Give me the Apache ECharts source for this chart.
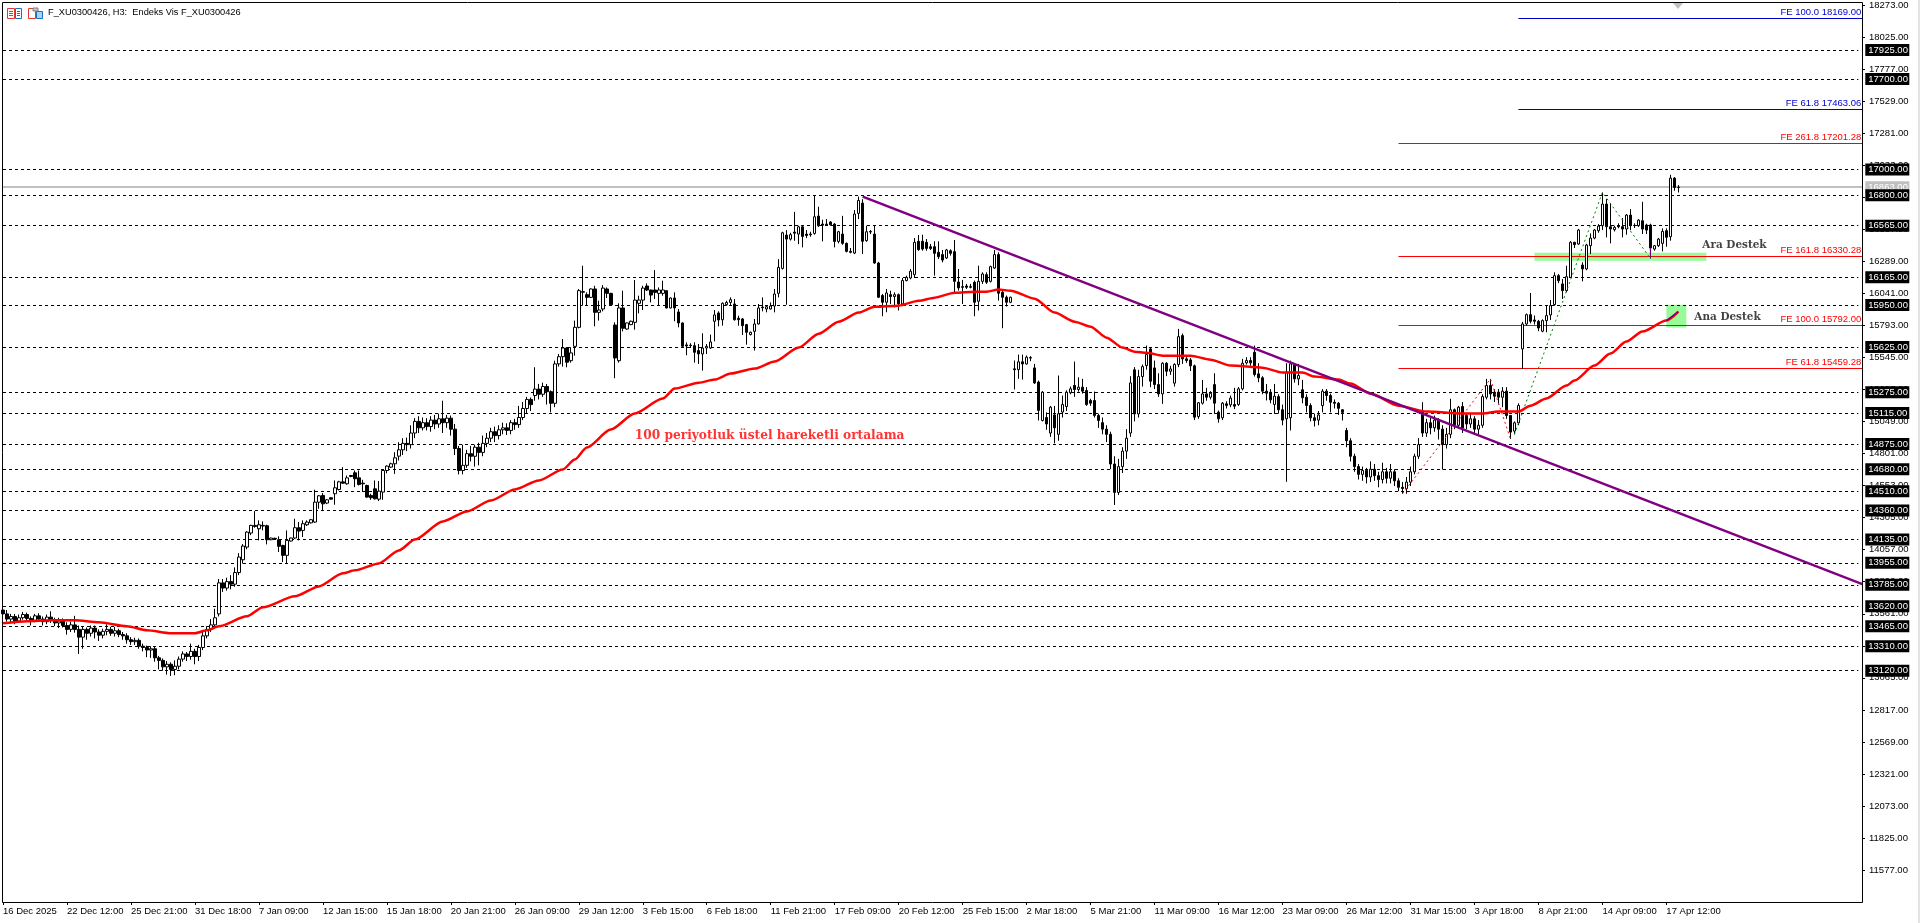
<!DOCTYPE html>
<html><head><meta charset="utf-8"><title>F_XU0300426</title>
<style>html,body{margin:0;padding:0;background:#fff}#c{width:1920px;height:923px}</style>
<script src="https://cdn.jsdelivr.net/npm/echarts@6/dist/echarts.min.js"></script></head>
<body><div id="c"></div>
<script>
// Time labels, one every 16 bars
const timeLabels=['16 Dec 2025','22 Dec 12:00','25 Dec 21:00','31 Dec 18:00','7 Jan 09:00','12 Jan 15:00','15 Jan 18:00','20 Jan 21:00','26 Jan 09:00','29 Jan 12:00','3 Feb 15:00','6 Feb 18:00','11 Feb 21:00','17 Feb 09:00','20 Feb 12:00','25 Feb 15:00','2 Mar 18:00','5 Mar 21:00','11 Mar 09:00','16 Mar 12:00','23 Mar 09:00','26 Mar 12:00','31 Mar 15:00','3 Apr 18:00','8 Apr 21:00','14 Apr 09:00','17 Apr 12:00'];
const priceTicks=[18273,18025,17777,17529,17281,17033,16785,16537,16289,16041,15793,15545,15297,15049,14801,14553,14305,14057,13809,13561,13313,13065,12817,12569,12321,12073,11825,11577];
const supportLevels=[17925,17700,17000,16800,16565,16165,15950,15625,15275,15115,14875,14680,14510,14360,14135,13955,13785,13620,13465,13310,13120];
const currentPrice=16863;
const feNames=['FE 100.0 18169.00','FE 61.8 17463.06','FE 261.8 17201.28','FE 161.8 16330.28','FE 100.0 15792.00','FE 61.8 15459.28'];
const fePrices=[18169,17463.06,17201.28,16330.28,15792,15459.28];
const feStart=[379,379,349,349,349,349];
const feColors=['#0000cd','#0000cd','#ff0000','#ff0000','#ff0000','#ff0000'];
// Candles: [open, close, low, high]
const barsDec=[[13590,13560,13520,13665],[13560,13520,13500,13590],[13520,13540,13490,13560],[13540,13505,13480,13560],[13505,13530,13490,13555],[13530,13555,13515,13575],[13555,13525,13500,13570],[13525,13510,13470,13540],[13510,13545,13495,13560],[13545,13520,13500,13565],[13520,13500,13470,13540],[13500,13535,13480,13555],[13535,13515,13490,13580],[13515,13490,13465,13530],[13490,13505,13450,13530],[13505,13470,13455,13525],[13470,13440,13400,13495],[13440,13475,13420,13500],[13475,13440,13415,13545],[13440,13380,13250,13470],[13380,13440,13290,13465],[13440,13410,13360,13455],[13410,13450,13385,13470],[13450,13420,13370,13470],[13420,13395,13350,13440],[13395,13425,13370,13445],[13425,13440,13395,13480],[13440,13410,13390,13460],[13410,13430,13385,13460],[13430,13400,13380,13445],[13400,13390,13360,13420],[13390,13360,13330,13410],[13360,13345,13320,13380],[13345,13355,13320,13375],[13355,13310,13290,13370],[13310,13300,13270,13330],[13300,13280,13225,13315],[13280,13290,13220,13310],[13290,13220,13190,13310],[13220,13200,13130,13235],[13200,13150,13120,13215],[13150,13170,13090,13195],[13170,13130,13080,13185],[13130,13155,13085,13200],[13155,13210,13130,13230],[13210,13250,13190,13270],[13250,13230,13195,13265],[13230,13270,13205,13330]];
const barsJanA=[[13270,13230,13170,13290],[13230,13300,13195,13320],[13300,13390,13280,13420],[13390,13440,13370,13465],[13440,13475,13420,13520],[13475,13530,13455,13600],[13560,13800,13540,13830],[13800,13760,13730,13830],[13760,13810,13740,13840],[13810,13790,13750,13860],[13790,13880,13770,13920],[13880,14000,13860,14030],[13979,14085,13950,14100],[14077,14193,14060,14200],[14186,14245,14170,14250],[14245,14237,14227,14356],[14219,14250,14129,14284],[14245,14240,14206,14276],[14242,14134,14098,14250],[14134,14147,14130,14150],[14145,14140,14135,14150],[14134,14083,14039,14160],[14090,14013,13961,14095],[14013,14129,13954,14206],[14124,14147,14120,14150],[14147,14227,14140,14296],[14227,14201,14129,14271],[14206,14258,14155,14284],[14250,14271,14240,14284],[14265,14289,14260,14295],[14271,14425,14265,14521],[14425,14474,14374,14480],[14477,14412,14361,14495],[14418,14443,14410,14448],[14459,14448,14445,14462],[14490,14536,14405,14593],[14523,14582,14515,14590],[14582,14572,14567,14696],[14567,14613,14560,14631],[14631,14624,14618,14636],[14652,14606,14541,14670],[14613,14562,14554,14670],[14572,14567,14503,14598],[14554,14464,14460,14560],[14477,14459,14443,14490],[14528,14451,14445,14593],[14448,14510,14433,14588],[14503,14670,14443,14675],[14670,14704,14649,14710],[14696,14722,14690,14730],[14722,14768,14644,14812],[14781,14830,14747,14889]];
const barsJanB=[[14830,14880,14790,14920],[14880,14870,14820,14925],[14870,14960,14840,15020],[14960,15050,14920,15075],[15050,15000,14960,15090],[15000,15040,14980,15080],[15040,15010,14980,15075],[15010,15060,14970,15090],[15060,15030,14990,15100],[15030,15070,15000,15110],[15070,15040,14960,15210],[15040,15075,15000,15100],[15075,14990,14940,15095],[14990,14840,14790,15030],[14840,14670,14640,14860],[14670,14710,14640,14870],[14710,14800,14690,14830],[14800,14780,14740,14860],[14780,14850,14700,14870],[14850,14810,14710,14885],[14810,14880,14780,14940],[14880,14920,14850,14960],[14920,14970,14890,15000],[14970,14940,14890,15010],[14940,14985,14910,15020],[14985,15000,14950,15040],[15000,14980,14945,15035],[14980,15040,14950,15060],[15040,15025,14985,15070],[15025,15080,15000,15170],[15080,15150,15060,15200],[15150,15220,15110,15240],[15220,15180,15130,15235],[15250,15300,15210,15469],[15300,15260,15220,15340],[15260,15320,15240,15350],[15320,15280,15180,15340],[15280,15190,15120,15290]];
const barsFebA=[[15190,15495,15160,15520],[15495,15551,15474,15572],[15551,15618,15474,15688],[15618,15508,15469,15625],[15520,15580,15505,15624],[15631,15778,15559,15830],[15778,16062,15770,16075],[16054,16050,15946,16255],[16031,16010,15946,16049],[16010,16075,16005,16080],[16075,15894,15786,16100],[15894,15912,15830,15984],[15920,16082,15902,16105],[16075,16041,16005,16087],[16041,15953,15950,16045],[15796,15541,15384,15817],[15520,15928,15505,15964],[15928,15771,15747,16062],[15765,15812,15760,15815],[15799,15825,15795,15830],[15817,15989,15760,16144],[15964,15989,15886,16023],[15989,16082,15912,16100],[16098,16067,16060,16118],[16067,16028,15971,16070],[16067,16049,15997,16221],[16041,16067,15946,16087],[16041,16067,16023,16139],[16062,15928,15925,16065],[15928,16005,15925,16010],[16005,15928,15825,16049],[15897,15812,15778,15920],[15812,15631,15625,15815],[15642,15634,15562,15662],[15640,15636,15618,15655],[15636,15585,15505,15662],[15598,15572,15495,15649],[15572,15618,15443,15732],[15618,15631,15572,15649],[15618,15665,15610,15722]];
const barsFebB=[[15825,15874,15670,15912],[15889,15835,15786,15902],[15837,15964,15791,15971],[15953,15971,15945,15984],[15971,15992,15946,16010],[15959,15837,15830,15997],[15848,15837,15791,15868],[15843,15791,15719,15850],[15799,15740,15644,15805],[15722,15740,15715,15745],[15747,15804,15598,15843],[15804,15928,15800,15959],[15935,15930,15902,16010],[15920,15938,15894,15945],[15920,15943,15915,15971],[15943,16036,15894,16075],[16041,16242,16010,16306],[16234,16510,16225,16518],[16492,16461,15953,16531],[16461,16495,16450,16510],[16515,16507,16448,16672],[16500,16556,16422,16565],[16556,16482,16397,16564],[16500,16489,16469,16531],[16500,16495,16479,16518],[16505,16634,16495,16796],[16639,16564,16555,16711],[16577,16569,16443,16611],[16577,16573,16572,16616],[16593,16572,16565,16600],[16577,16443,16397,16585],[16443,16518,16428,16525],[16500,16428,16417,16641],[16428,16366,16358,16435],[16366,16359,16351,16392],[16353,16655,16345,16686],[16660,16760,16616,16790],[16740,16444,16346,16770]];
const barsFebC=[[16449,16518,16440,16565],[16516,16520,16500,16531],[16500,16276,16270,16565],[16276,16011,16005,16285],[16024,15972,15864,16036],[15972,16044,15895,16075],[16031,16016,15959,16062],[16016,16031,15933,16049],[16031,15959,15908,16040],[15959,16140,15950,16160],[16140,16165,16134,16178],[16160,16212,16150,16230],[16186,16436,16160,16469],[16444,16379,16371,16493],[16444,16384,16371,16495],[16436,16389,16371,16462],[16402,16389,16377,16423],[16402,16351,16178,16444],[16359,16325,16307,16444],[16341,16299,16281,16377],[16315,16377,16307,16385],[16371,16351,16333,16382],[16364,16134,16049,16454],[16129,16083,16062,16230],[16093,16088,15959,16145],[16098,16088,16075,16114],[16093,16088,16080,16114],[16127,15972,15864,16140],[15980,16134,15908,16255],[16134,16191,16114,16204],[16186,16127,16114,16204],[16134,16248,16125,16255],[16237,16341,16230,16377],[16341,16042,15985,16359],[16049,16011,15771,16062],[16011,15972,15939,16024],[15972,16011,15965,16015]];
const barsMarA=[[15457,15450,15297,15521],[15451,15511,15379,15567],[15511,15495,15374,15567],[15495,15547,15490,15560],[15540,15544,15516,15555],[15464,15348,15340,15495],[15354,15135,15057,15366],[15057,15276,15050,15285],[15080,15030,14985,15120],[14960,15160,14930,15170],[15100,15000,14880,15170],[14950,15109,14900,15405],[15122,15181,15080,15250],[15165,15276,15130,15290],[15271,15302,15260,15320],[15328,15297,15240,15513],[15297,15315,15280,15392],[15315,15284,15265,15379],[15289,15181,15170,15315],[15212,15191,15170,15225],[15212,15096,15080,15281],[15096,15057,15000,15110],[15040,14990,14950,15080],[14990,14950,14890,15020],[14950,14720,14680,14970],[14720,14500,14403,14780],[14500,14700,14480,14760],[14700,14820,14650,14850],[14820,14920,14760,14990]];
const barsMarB=[[14960,15348,14930,15400],[15449,15108,15050,15470],[15108,15397,15080,15449],[15397,15474,15320,15490],[15482,15567,15450,15637],[15611,15361,15315,15624],[15464,15335,15300,15521],[15335,15263,15240,15423],[15263,15500,15186,15508],[15500,15438,15400,15508],[15438,15456,15410,15480],[15346,15490,15320,15500],[15490,15706,15470,15766],[15714,15534,15495,15730],[15534,15521,15503,15552],[15526,15480,15440,15540],[15480,15083,15060,15490],[15088,15194,15070,15200],[15191,15263,15180,15371],[15263,15237,15210,15310],[15237,15268,15220,15284],[15335,15191,15108,15423],[15121,15070,15040,15134],[15078,15191,15060,15200],[15186,15173,15150,15206],[15178,15230,15160,15250],[15181,15168,15145,15310],[15181,15302,15170,15315],[15302,15500,15290,15534],[15503,15521,15490,15547],[15521,15503,15480,15547],[15585,15413,15397,15637],[15418,15387,15353,15500],[15387,15284,15260,15400],[15284,15268,15212,15340],[15276,15217,15190,15300],[15181,15245,15108,15340],[15242,15140,15110,15260]];
const barsMarC=[[15140,15060,15020,15180],[15070,15431,14583,15500],[15078,15495,14980,15520],[15490,15379,15350,15500],[15379,15405,15330,15495],[15295,15233,15190,15371],[15237,15173,15120,15260],[15173,15078,15050,15190],[15078,15057,15010,15110],[15060,15100,15020,15130],[15172,15284,15120,15300],[15284,15250,15210,15300],[15250,15198,15120,15265],[15198,15190,15150,15220],[15190,15151,15100,15200],[15140,15120,15057,15145],[14980,14900,14850,15000],[14900,14780,14740,14920],[14780,14700,14660,14800],[14700,14640,14600,14720],[14640,14670,14590,14700],[14670,14620,14570,14690],[14620,14680,14580,14740],[14680,14630,14590,14720],[14630,14600,14540,14660],[14600,14660,14570,14730],[14660,14610,14570,14690],[14610,14660,14570,14720],[14660,14590,14550,14680],[14590,14540,14510,14610],[14540,14530,14490,14580],[14530,14580,14490,14620]];
const barsApr=[[14580,14660,14550,14700],[14660,14780,14640,14800],[14780,14870,14760,14920],[15121,14960,14930,15199],[14960,15040,14930,15070],[15040,15000,14950,15080],[15000,15060,14970,15095],[15060,14990,14910,15075],[14990,14870,14677,15020],[14870,14950,14840,15000],[14950,15140,14920,15225],[15140,15020,14990,15150],[15020,15160,15000,15170],[15165,15000,14960,15200],[15096,15030,14990,15110],[15030,15070,15000,15110],[15070,14990,14960,15090],[14990,15020,14950,15060],[15020,15242,15000,15260],[15237,15328,15220,15379],[15328,15263,15220,15379],[15276,15245,15200,15300],[15276,15237,15180,15300],[15237,15284,15160,15315],[15284,15096,15070,15315],[15096,14967,14915,15100],[14975,15039,14950,15050],[15039,15173,15020,15190],[15611,15804,15456,15820],[15804,15876,15790,15885],[15876,15825,15809,16044],[15835,15825,15800,15870],[15825,15773,15748,15835],[15748,15830,15740,15840],[15830,15869,15740,15946],[15874,15946,15835,15990],[15954,16178,15945,16204],[16178,16139,16120,16191],[16114,16062,15998,16152],[16062,16170,16050,16255],[16165,16436,16160,16445],[16436,16418,16392,16440],[16423,16531,16415,16540],[16260,16230,16134,16281],[16230,16415,16220,16425],[16410,16469,16346,16505],[16469,16531,16460,16540],[16526,16562,16510,16577],[16565,16732,16531,16822],[16732,16557,16474,16771],[16557,16539,16428,16737],[16534,16552,16520,16565],[16562,16557,16545,16583],[16557,16539,16474,16624],[16539,16647,16495,16655],[16647,16565,16530,16693],[16567,16565,16547,16583],[16565,16608,16555,16615],[16603,16539,16500,16750],[16570,16531,16500,16580],[16570,16392,16312,16580],[16384,16410,16371,16415],[16410,16461,16400,16470],[16428,16521,16366,16544],[16526,16475,16402,16544],[16480,16933,16449,16959],[16933,16861,16835,16940],[16863,16860,16822,16879]];
// 100-period EMA and drawn objects, read as [bar index, price]
const emaLine=[[0,13487],[6,13503],[12,13510],[18,13510],[24,13495],[31,13464],[36,13433],[42,13410],[48,13410],[51,13433],[54,13464],[61,13541],[65,13611],[73,13696],[79,13773],[85,13874],[88,13897],[94,13951],[99,14051],[103,14136],[110,14276],[116,14353],[122,14438],[128,14523],[134,14593],[140,14678],[143,14755],[146,14848],[152,14987],[158,15111],[165,15227],[168,15304],[174,15350],[178,15374],[182,15420],[188,15459],[193,15513],[199,15621],[204,15729],[209,15822],[214,15892],[218,15938],[224,15946],[229,15984],[233,16008],[238,16046],[243,16054],[246,16054],[249,16070],[252,16062],[258,16000],[263,15892],[268,15822],[272,15783],[276,15698],[280,15621],[283,15590],[286,15582],[290,15559],[297,15559],[302,15528],[307,15482],[315,15466],[320,15428],[325,15428],[328,15397],[334,15374],[337,15343],[342,15265],[349,15172],[356,15126],[365,15111],[370,15111],[374,15126],[379,15126],[382,15172],[386,15227],[391,15327],[393,15366],[398,15482],[402,15575],[406,15668],[410,15745],[416,15830],[419,15899]];
const trendLine=[[215,16790],[465,13790]];
const redZigzag=[[350,14490],[372,15379],[377,14915]];
const greenZigzag=[[378,14950],[400,16822],[412,16312]];
const emaTip=[[416,15830],[419,15899]];
const supportTip=[[412,16392],[412,16312]];
const zones=[{x:[383,426],y:[16294,16356]},{x:[416,421],y:[15776,15953]}];
const notes=[{text:'100 periyotluk üstel hareketli ortalama',at:[158,14941],color:'#ff0000',size:12.2,font:'"DejaVu Serif"'},{text:'Ara Destek',at:[425,16417],color:'#111111',size:11.6,font:'"DejaVu Serif Condensed","DejaVu Serif"'},{text:'Ana Destek',at:[423,15861],color:'#111111',size:11.6,font:'"DejaVu Serif Condensed","DejaVu Serif"'}];

const bars=[].concat(barsDec,barsJanA,barsJanB,barsFebA,barsFebB,barsFebC,barsMarA,barsMarB,barsMarC,barsApr);
const slots=466;
const cats=[];for(let i=0;i<slots;i++)cats.push(i%16===0&&timeLabels[i/16]?timeLabels[i/16]:'');
const lastBar=slots-1;
const uiFont='"Liberation Sans"';
const every16=i=>i%16===0&&i<=416;
const plain={symbol:'none',silent:true,animation:false};
const levelData=supportLevels.map(v=>[{coord:[0,v],value:v},{coord:[464,v]}]);
const chart=echarts.init(document.getElementById('c'),null,{renderer:'canvas'});
chart.setOption({
 animation:false,backgroundColor:'#fff',
 grid:{left:0.3,top:2,width:1864,height:900,containLabel:false},
 xAxis:{type:'category',data:cats,boundaryGap:true,axisLine:{show:false},
  axisTick:{show:true,alignWithLabel:true,interval:every16,length:3,lineStyle:{color:'#000'}},
  axisLabel:{interval:every16,align:'left',margin:4,color:'#000',fontFamily:uiFont,fontSize:9.5,hideOverlap:false},
  splitLine:{show:false}},
 yAxis:{type:'value',position:'right',offset:-2.3,min:11330,max:18288,scale:true,axisLine:{show:false},
  axisTick:{show:true,length:3,customValues:priceTicks,lineStyle:{color:'#000'}},
  axisLabel:{customValues:priceTicks,margin:7,color:'#000',fontFamily:uiFont,fontSize:9.5,formatter:v=>Number(v).toFixed(2),showMinLabel:true,showMaxLabel:true,hideOverlap:false},
  splitLine:{show:false}},
 series:[
  {name:'zones',type:'line',z:1,data:[],...plain,markArea:{silent:true,z:1,itemStyle:{color:'#98fb98',opacity:1},
    data:zones.map(a=>[{coord:[a.x[0],a.y[1]]},{coord:[a.x[1],a.y[0]]}])}},
  {name:'current',type:'line',z:2,data:[],...plain,markLine:{silent:true,z:2,animation:false,symbol:['none','none'],
    lineStyle:{color:'#c0c0c0',type:'solid',width:2},
    label:{show:true,position:'end',distance:3,formatter:()=>currentPrice.toFixed(2),backgroundColor:'#c0c0c0',color:'#fff',fontFamily:uiFont,fontSize:9.5,padding:[1,3,1,3],width:38},
    data:[[{coord:[0,currentPrice]},{coord:[lastBar,currentPrice]}]]}},
  {name:'levels',type:'line',z:2,data:[],...plain,markLine:{silent:true,z:2,animation:false,symbol:['none','none'],
    lineStyle:{color:'#000',type:[3,3],width:1},
    label:{show:true,position:'end',distance:7,formatter:p=>Number(p.value).toFixed(2),backgroundColor:'#000',color:'#fff',fontFamily:uiFont,fontSize:9.5,padding:[1,3,1,3],width:38},
    data:levelData}},
  {name:'fe',type:'line',z:3,data:[],...plain,markLine:{silent:true,z:3,animation:false,symbol:['none','none'],
    data:feNames.map((n,k)=>[{coord:[feStart[k],fePrices[k]],name:n,lineStyle:{color:feColors[k],width:1,type:'solid'},
      label:{show:true,position:'insideEndTop',distance:1,formatter:n,color:feColors[k],fontFamily:uiFont,fontSize:9.5}},{coord:[lastBar,fePrices[k]]}])}},
  {name:'price',type:'candlestick',z:4,data:bars,barWidth:3,silent:true,animation:false,large:false,progressive:0,clip:true,
    itemStyle:{color:'#ffffff',color0:'#000000',borderColor:'#000000',borderColor0:'#000000',borderWidth:1}},
  {name:'red zigzag',type:'line',z:5,data:redZigzag,...plain,lineStyle:{color:'#ff0000',width:1,type:[2,3]}},
  {name:'green zigzag',type:'line',z:5,data:greenZigzag,...plain,lineStyle:{color:'#008000',width:1,type:[2,3]}},
  {name:'ema',type:'line',z:6,data:emaLine,...plain,smooth:0.25,smoothMonotone:'x',lineStyle:{color:'#ff0000',width:2.5}},
  {name:'trend',type:'line',z:7,data:trendLine,...plain,lineStyle:{color:'#800080',width:2.5}},
  {name:'ema tip',type:'line',z:8,data:emaTip,...plain,lineStyle:{color:'#800080',width:1.5}},
  {name:'support tip',type:'line',z:8,data:supportTip,...plain,lineStyle:{color:'#800080',width:1}},
  {name:'notes',type:'scatter',z:9,symbolSize:0,silent:true,animation:false,
    data:notes.map(n=>({value:n.at,label:{show:true,position:'right',distance:0,formatter:n.text,color:n.color,fontSize:n.size,fontFamily:n.font,fontWeight:'bold'}}))}
 ],
 graphic:{elements:[
  {type:'rect',silent:true,z:20,shape:{x:2.5,y:2.5,width:1860,height:900},style:{fill:'none',stroke:'#000',lineWidth:1}},
  {type:'rect',silent:true,z:20,shape:{x:1918,y:0,width:2,height:923},style:{fill:'#e4e4e4'}},
  {type:'polygon',silent:true,z:20,shape:{points:[[1673,3],[1683,3],[1678,9]]},style:{fill:'#c0c0c0'}},
  {type:'text',silent:true,z:20,x:48,y:8,style:{text:'F_XU0300426, H3:  Endeks Vis F_XU0300426',fill:'#000',font:'9.25px "Liberation Sans"'}},
  {type:'rect',silent:true,z:20,shape:{x:7.5,y:8.5,width:7,height:10},style:{fill:'#fff',stroke:'#e8352a'}},
  {type:'rect',silent:true,z:20,shape:{x:15.5,y:8.5,width:6,height:10},style:{fill:'#fff',stroke:'#1c6fb8'}},
  {type:'rect',silent:true,z:20,shape:{x:9,y:11,width:4,height:1},style:{fill:'#e8352a'}},
  {type:'rect',silent:true,z:20,shape:{x:9,y:13,width:4,height:1},style:{fill:'#e8352a'}},
  {type:'rect',silent:true,z:20,shape:{x:9,y:15,width:4,height:1},style:{fill:'#e8352a'}},
  {type:'rect',silent:true,z:20,shape:{x:17,y:11,width:3,height:1},style:{fill:'#1c6fb8'}},
  {type:'rect',silent:true,z:20,shape:{x:17,y:13,width:3,height:1},style:{fill:'#1c6fb8'}},
  {type:'rect',silent:true,z:20,shape:{x:17,y:15,width:3,height:1},style:{fill:'#1c6fb8'}},
  {type:'rect',silent:true,z:20,shape:{x:28.5,y:8.5,width:7,height:10},style:{fill:'#fff',stroke:'#e8352a'}},
  {type:'rect',silent:true,z:20,shape:{x:36.5,y:11.5,width:6,height:7},style:{fill:'#a8d4f0',stroke:'#1c6fb8'}},
  {type:'rect',silent:true,z:20,shape:{x:33,y:8,width:5,height:3},style:{fill:'#c8c8c8',stroke:'#808080',lineWidth:1}}
 ]}
});
</script></body></html>
